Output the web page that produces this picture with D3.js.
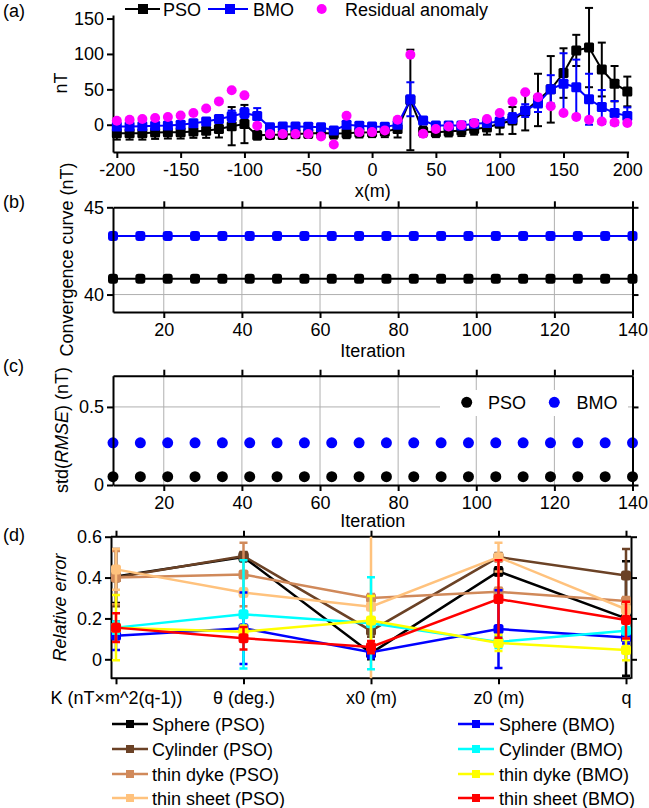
<!DOCTYPE html>
<html><head><meta charset="utf-8">
<script src="https://cdn.jsdelivr.net/npm/d3@7"></script>
<style>body{margin:0;background:#fff} text{font-family:"Liberation Sans",Arial,sans-serif;fill:#000}</style>
</head><body><svg id="c" width="649" height="808"></svg>
<script>
// ---------- Panel (a) data ----------
const xPos = [-200,-190,-180,-170,-160,-150,-140,-130,-120,-110,-100,-90,-80,-70,-60,-50,-40,-30,-20,-10,0,10,20,30,40,50,60,70,80,90,100,110,120,130,140,150,160,170,180,190,200];
const psoA = [-12,-12,-12,-11,-10.5,-10.5,-9.5,-8.5,-6,-2,1,-15,-14,-14,-13,-12.5,-11.5,-12.5,-12,-11,-10.5,-9.5,-6,35,-9.5,-10.5,-9.5,-8,-6,-4,1.5,6,19,35,50,73,105,109,78,58,47];
const psoAErr = [9,9,9,9,9,9,9,10,12,27,27,6,6,6,6,6,7,7,7,7,7,8,12,71,7,7,7,8,8,10,15,19,27,37,47,35,22,56,38,25,21];
const bmoA = [-2.5,-2.5,-2,-1.5,-1,0,2,4.5,8,12,16.5,12.5,-3.5,-2.5,-2.5,-3,-3.5,-8,0,-1.5,-2.5,-3,0,36,6,-1,-1,-1,1.5,2.5,4.5,9.5,20,30,50,58,53,36,25,16.5,12.5];
const bmoAErr = [3,3,3,3,3,3,3,3,5,8,7,11,3,3,3,3,3,3,3,3,3,3,3,24,4,3,3,3,3,3,5,7,9,12,20,43,39,36,24,17,12];
const resid = [5.7,7,8,9.4,11,13,16.5,23,33,48.6,41.5,-1.4,-13,-13,-13,-13,-16.5,-28,12.7,-10.4,-10.4,-8,7,99,-12.7,-6,-2.4,-0.5,2.4,8,16.5,33,46,39,26,16.5,11,7,4.7,3.3,2.4];
const xTicksA = [-200,-150,-100,-50,0,50,100,150,200];
const xTickLabelsA = ["-200","-150","-100","-50","0","50","100","150","200"];
const yTicksA = [0,50,100,150];

// ---------- Panel (b)/(c) data ----------
const iters = [7,14,21,28,35,42,49,56,63,70,77,84,91,98,105,112,119,126,133,140];
const convPSO = [40.9,40.9,40.9,40.9,40.9,40.9,40.9,40.9,40.9,40.9,40.9,40.9,40.9,40.9,40.9,40.9,40.9,40.9,40.9,40.9];
const convBMO = [43.36,43.36,43.36,43.36,43.36,43.36,43.36,43.36,43.36,43.36,43.36,43.36,43.36,43.36,43.36,43.36,43.36,43.36,43.36,43.36];
const stdPSO = [0.053,0.053,0.053,0.053,0.053,0.053,0.053,0.053,0.053,0.053,0.053,0.053,0.053,0.053,0.053,0.053,0.053,0.053,0.053,0.053];
const stdBMO = [0.27,0.27,0.27,0.27,0.27,0.27,0.27,0.27,0.27,0.27,0.27,0.27,0.27,0.27,0.27,0.27,0.27,0.27,0.27,0.27];
const iterTicks = [20,40,60,80,100,120,140];
const yTicksB = [40,45];
const yTicksC = [0,0.5];

// ---------- Panel (d) data ----------
const cats = ["K (nT×m^2(q-1))","θ (deg.)","x0 (m)","z0 (m)","q"];
const seriesNames = ["Sphere (PSO)","Cylinder (PSO)","thin dyke (PSO)","thin sheet (PSO)","Sphere (BMO)","Cylinder (BMO)","thin dyke (BMO)","thin sheet (BMO)"];
const seriesColors = ["#000000","#6b4226","#d0895a","#ffc27d","#0000ff","#00ffff","#ffff00","#ff0000"];
const spherePSO = [0.405,0.50,0.03,0.43,0.20];
const spherePSOErr = [0.13,0.02,0.03,0.02,0.28];
const cylPSO = [0.40,0.505,0.14,0.50,0.41];
const cylPSOErr = [0.14,0.02,0.03,0.02,0.13];
const dykePSO = [0.40,0.415,0.30,0.33,0.285];
const dykePSOErr = [0.13,0.155,0.02,0.02,0.02];
const sheetPSO = [0.44,0.327,0.257,0.50,0.245];
const sheetPSOErr = [0.10,0.02,0.40,0.07,0.03];
const sphereBMO = [0.115,0.152,0.035,0.148,0.107];
const sphereBMOErr = [0.07,0.175,0.03,0.19,0.03];
const cylBMO = [0.155,0.22,0.176,0.085,0.14];
const cylBMOErr = [0.03,0.265,0.225,0.03,0.04];
const dykeBMO = [0.155,0.135,0.19,0.08,0.045];
const dykeBMOErr = [0.16,0.03,0.12,0.04,0.05];
const sheetBMO = [0.155,0.103,0.06,0.295,0.192];
const sheetBMOErr = [0.07,0.055,0.03,0.19,0.09];
const yTicksD = [0,0.2,0.4,0.6];

const svg = d3.select("#c");
svg.append("rect").attr("width",649).attr("height",808).attr("fill","#fff");

function styleAxis(g, fs){
  g.selectAll(".domain").attr("stroke","#000").attr("stroke-width",2);
  g.selectAll(".tick line").attr("stroke","#000").attr("stroke-width",2);
  g.selectAll(".tick text").attr("font-size",fs||18).attr("fill","#000")
    .attr("font-family",'"Liberation Sans",Arial,sans-serif');
}
function errBars(g, xs, ys, es, xf, yf, color, cap, sw){
  xs.forEach((xv,i)=>{
    const x = xf(xv), y1 = yf(ys[i]-es[i]), y2 = yf(ys[i]+es[i]);
    g.append("line").attr("x1",x).attr("x2",x).attr("y1",y1).attr("y2",y2).attr("stroke",color).attr("stroke-width",sw);
    [y1,y2].forEach(yy=>g.append("line").attr("x1",x-cap/2).attr("x2",x+cap/2).attr("y1",yy).attr("y2",yy).attr("stroke",color).attr("stroke-width",sw));
  });
}
function label(t,x,y,opts){
  const e = svg.append("text").attr("x",x).attr("y",y).attr("font-size",18).text(t);
  if(opts&&opts.anchor) e.attr("text-anchor",opts.anchor);
  return e;
}

// ================= Panel (a) =================
{
  const x = d3.scaleLinear().domain([-203,201]).range([113,628.6]);
  const y = d3.scaleLinear().domain([-38.5,155]).range([152,15]);
  const gx = svg.append("g").attr("transform","translate(0,152)")
    .call(d3.axisBottom(x).tickValues(xTicksA).tickFormat((d,i)=>xTickLabelsA[i]).tickSize(6).tickSizeOuter(0).tickPadding(5));
  styleAxis(gx);
  const gy = svg.append("g").attr("transform","translate(113,0)")
    .call(d3.axisLeft(y).tickValues(yTicksA).tickSize(6).tickSizeOuter(0).tickPadding(3));
  styleAxis(gy);
  const g = svg.append("g");
  // PSO
  errBars(g, xPos, psoA, psoAErr, x, y, "#000", 8, 2);
  g.append("path").datum(xPos.map((d,i)=>[x(d),y(psoA[i])])).attr("d",d3.line()).attr("fill","none").attr("stroke","#000").attr("stroke-width",2);
  xPos.forEach((d,i)=>g.append("rect").attr("x",x(d)-5).attr("y",y(psoA[i])-5).attr("width",10).attr("height",10).attr("rx",1.5).attr("fill","#000"));
  // BMO
  errBars(g, xPos, bmoA, bmoAErr, x, y, "#0000ff", 8, 2);
  g.append("path").datum(xPos.map((d,i)=>[x(d),y(bmoA[i])])).attr("d",d3.line()).attr("fill","none").attr("stroke","#0000ff").attr("stroke-width",2);
  xPos.forEach((d,i)=>g.append("rect").attr("x",x(d)-5).attr("y",y(bmoA[i])-5).attr("width",10).attr("height",10).attr("rx",1.5).attr("fill","#0000ff"));
  // Residual
  xPos.forEach((d,i)=>g.append("circle").attr("cx",x(d)).attr("cy",y(resid[i])).attr("r",5).attr("fill","#ff00ff"));
  // legend
  svg.append("line").attr("x1",125).attr("x2",160).attr("y1",9).attr("y2",9).attr("stroke","#000").attr("stroke-width",2);
  svg.append("rect").attr("x",138).attr("y",4).attr("width",10).attr("height",10).attr("fill","#000");
  label("PSO",163,16);
  svg.append("line").attr("x1",208).attr("x2",248).attr("y1",9).attr("y2",9).attr("stroke","#0000ff").attr("stroke-width",2);
  svg.append("rect").attr("x",225).attr("y",4).attr("width",10).attr("height",10).attr("fill","#0000ff");
  label("BMO",253,16);
  svg.append("circle").attr("cx",321.7).attr("cy",9).attr("r",5).attr("fill","#ff00ff");
  label("Residual anomaly",345,16);
  label("x(m)",372.7,197,{anchor:"middle"});
  svg.append("text").attr("transform","translate(67,83) rotate(-90)").attr("text-anchor","middle").attr("font-size",18).text("nT");
  label("(a)",3,17);
}

// ============ helper for framed panels (b),(c) ============
function framed(yDomain, yRange, yTicks, yFmt, gridY){
  const x = d3.scaleLinear().domain([7,140]).range([113,632.5]);
  const y = d3.scaleLinear().domain(yDomain).range(yRange);
  const g = svg.append("g");
  const gridTicks = [20,40,60,80,100,120];
  gridTicks.forEach(t=>g.append("line").attr("class","grid").attr("x1",x(t)).attr("x2",x(t)).attr("y1",yRange[1]).attr("y2",yRange[0]).attr("stroke","#b0b0b0").attr("stroke-width",1));
  gridY.forEach(t=>g.append("line").attr("x1",113).attr("x2",632.5).attr("y1",y(t)).attr("y2",y(t)).attr("stroke","#b0b0b0").attr("stroke-width",1));
  const gb = svg.append("g").attr("transform",`translate(0,${yRange[0]})`).call(d3.axisBottom(x).tickValues(iterTicks).tickSize(6).tickSizeOuter(0).tickPadding(5));
  styleAxis(gb);
  const gt = svg.append("g").attr("transform",`translate(0,${yRange[1]})`).call(d3.axisTop(x).tickValues(iterTicks).tickSize(6).tickSizeOuter(0).tickFormat(""));
  styleAxis(gt);
  const gl = svg.append("g").attr("transform","translate(113,0)").call(d3.axisLeft(y).tickValues(yTicks).tickFormat(yFmt).tickSize(6).tickSizeOuter(0).tickPadding(3));
  styleAxis(gl);
  const gr = svg.append("g").attr("transform","translate(632.5,0)").call(d3.axisRight(y).tickValues(yTicks).tickSize(6).tickSizeOuter(0).tickFormat(""));
  styleAxis(gr);
  return {x,y,g};
}

// ================= Panel (b) =================
{
  const {x,y,g} = framed([39,45],[312,207.3],yTicksB,d=>String(d),[40]);
  [[convPSO,"#000"],[convBMO,"#0000ff"]].forEach(([vals,col])=>{
    g.append("path").datum(iters.map((d,i)=>[x(d),y(vals[i])])).attr("d",d3.line()).attr("fill","none").attr("stroke",col).attr("stroke-width",2);
    iters.forEach((d,i)=>g.append("rect").attr("x",x(d)-5).attr("y",y(vals[i])-5).attr("width",10).attr("height",10).attr("rx",3).attr("fill",col));
  });
  label("Iteration",372.7,357,{anchor:"middle"});
  svg.append("text").attr("transform","translate(73,259.5) rotate(-90)").attr("text-anchor","middle").attr("font-size",18).text("Convergence curve (nT)");
  label("(b)",3,208);
}

// ================= Panel (c) =================
{
  const {x,y,g} = framed([0,0.7],[485,375.7],yTicksC,d=>String(d),[0.5]);
  // legend background
  g.append("rect").attr("x",440).attr("y",390).attr("width",188).attr("height",26).attr("fill","#fff");
  [[stdPSO,"#000"],[stdBMO,"#0000ff"]].forEach(([vals,col])=>{
    iters.forEach((d,i)=>g.append("circle").attr("cx",x(d)).attr("cy",y(vals[i])).attr("r",5.5).attr("fill",col));
  });
  svg.append("circle").attr("cx",466.7).attr("cy",402.3).attr("r",5.5).attr("fill","#000");
  label("PSO",488,409);
  svg.append("circle").attr("cx",554.3).attr("cy",402.3).attr("r",5.5).attr("fill","#0000ff");
  label("BMO",576.5,409);
  label("Iteration",372.7,527,{anchor:"middle"});
  const t = svg.append("text").attr("transform","translate(68,430) rotate(-90)").attr("text-anchor","middle").attr("font-size",18);
  t.append("tspan").text("std(");
  t.append("tspan").attr("font-style","italic").text("RMSE");
  t.append("tspan").text(") (nT)");
  label("(c)",3,372);
}

// ================= Panel (d) =================
{
  const x = d3.scalePoint().domain(cats).range([116,626]);
  const y = d3.scaleLinear().domain([-0.093,0.6]).range([678.3,536.7]);
  svg.append("defs").append("clipPath").attr("id","clipd").append("rect").attr("x",111).attr("y",536.7).attr("width",520).attr("height",141.6);
  const gb = svg.append("g").attr("transform","translate(0,678.3)").call(d3.axisBottom(x).tickSize(6).tickSizeOuter(0).tickPadding(7));
  styleAxis(gb);
  gb.select(".domain").attr("d","M111,0H631");
  const gt = svg.append("g").attr("transform","translate(0,536.7)").call(d3.axisTop(x).tickSize(6).tickSizeOuter(0).tickFormat(""));
  styleAxis(gt);
  gt.select(".domain").attr("d","M111,0H631");
  const gl = svg.append("g").attr("transform","translate(111,0)").call(d3.axisLeft(y).tickValues(yTicksD).tickFormat(d=>String(d)).tickSize(6).tickSizeOuter(0).tickPadding(3));
  styleAxis(gl);
  const gr = svg.append("g").attr("transform","translate(631,0)").call(d3.axisRight(y).tickValues(yTicksD).tickSize(6).tickSizeOuter(0).tickFormat(""));
  styleAxis(gr);
  const g = svg.append("g").attr("clip-path","url(#clipd)");
  const vals = [spherePSO,cylPSO,dykePSO,sheetPSO,sphereBMO,cylBMO,dykeBMO,sheetBMO];
  const errs = [spherePSOErr,cylPSOErr,dykePSOErr,sheetPSOErr,sphereBMOErr,cylBMOErr,dykeBMOErr,sheetBMOErr];
  vals.forEach((v,s)=>{
    const col = seriesColors[s];
    errBars(g, cats, v, errs[s], x, y, col, 8, 2.5);
    g.append("path").datum(cats.map((c,i)=>[x(c),y(v[i])])).attr("d",d3.line()).attr("fill","none").attr("stroke",col).attr("stroke-width",2.5);
    cats.forEach((c,i)=>g.append("rect").attr("x",x(c)-5).attr("y",y(v[i])-5).attr("width",10).attr("height",10).attr("rx",2.5).attr("fill",col));
  });
  // legend
  const rows = [724,749,774,798];
  seriesNames.forEach((n,s)=>{
    const col = seriesColors[s];
    const left = s<4;
    const r = rows[s%4];
    const lx = left?112:458, tx = left?152:499;
    svg.append("line").attr("x1",lx).attr("x2",lx+36).attr("y1",r).attr("y2",r).attr("stroke",col).attr("stroke-width",2.5);
    svg.append("rect").attr("x",lx+14).attr("y",r-4).attr("width",8).attr("height",8).attr("fill",col);
    label(n,tx,r+6.5);
  });
  svg.append("text").attr("transform","translate(66,607.5) rotate(-90)").attr("text-anchor","middle").attr("font-size",18).attr("font-style","italic").text("Relative error");
  label("(d)",3,541);
}
</script></body></html>
